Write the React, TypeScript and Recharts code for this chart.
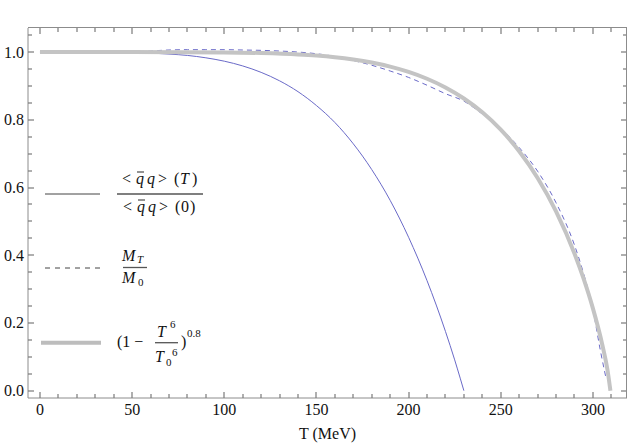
import { LineChart, Line, XAxis, YAxis } from 'recharts';

// <qq>(T)/<qq>(0), thin solid
const condT = [0, 10, 20, 30, 40, 50, 60, 70, 80, 90, 100, 110, 120, 130, 140, 150, 160, 170, 180, 190, 200, 210, 220, 225, 228, 230];
const condRatio = [1, 1, 1, 1, 0.9995, 0.9986, 0.997, 0.994, 0.99, 0.983, 0.973, 0.959, 0.94, 0.915, 0.883, 0.842, 0.792, 0.729, 0.653, 0.562, 0.453, 0.325, 0.175, 0.091, 0.037, 0];

// M_T/M_0, dashed
const massT = [0, 50, 55, 60, 70, 80, 90, 100, 110, 120, 130, 140, 150, 160, 170, 180, 190, 200, 210, 220, 230, 240, 250, 260, 270, 280, 290, 295, 300, 304, 307];
const massRatio = [1, 1, 1.001, 1.003, 1.006, 1.007, 1.007, 1.007, 1.006, 1.005, 1.003, 1.0, 0.995, 0.987, 0.975, 0.961, 0.944, 0.925, 0.902, 0.877, 0.855, 0.817, 0.774, 0.718, 0.648, 0.555, 0.43, 0.345, 0.24, 0.12, 0.04];

// (1 - T^6/T0^6)^0.8, thick grey
const fitT = [0, 50, 100, 120, 140, 150, 160, 170, 180, 190, 200, 210, 220, 230, 240, 250, 260, 270, 280, 290, 295, 300, 305, 308, 309.5];
const fitVals = [1, 1, 0.999, 0.997, 0.993, 0.9896, 0.9847, 0.9779, 0.9689, 0.9569, 0.9413, 0.9211, 0.8954, 0.8629, 0.822, 0.7708, 0.7072, 0.6282, 0.5295, 0.4051, 0.33, 0.243, 0.138, 0.058, 0];

// ticks: every 10 on x (labels every 50), every 0.05 on y (labels every 0.2)
const xTicks = [0, 10, 20, 30, 40, 50, 60, 70, 80, 90, 100, 110, 120, 130, 140, 150, 160, 170, 180, 190, 200, 210, 220, 230, 240, 250, 260, 270, 280, 290, 300, 310];
const yTicks = [0, 0.05, 0.1, 0.15, 0.2, 0.25, 0.3, 0.35, 0.4, 0.45, 0.5, 0.55, 0.6, 0.65, 0.7, 0.75, 0.8, 0.85, 0.9, 0.95, 1.0, 1.05];

const condData = condT.map((t, i) => ({ t, v: condRatio[i] }));
const massData = massT.map((t, i) => ({ t, v: massRatio[i] }));
const fitData = fitT.map((t, i) => ({ t, v: fitVals[i] }));

const xDomain: [number, number] = [-6.5, 318.5];
const yDomain: [number, number] = [-0.0216, 1.071];

const W = 634;
const H = 445;
const PLOT_LEFT = 28;
const PLOT_TOP = 28;
const PLOT_RIGHT = 627;
const PLOT_BOTTOM = 398;

const frame = '#8c8c8c';
const tickCol = '#7a7a7a';
const blue = '#6a6ac8';
const serif = "'Liberation Serif', 'Times New Roman', Times, 'DejaVu Serif', serif";

const isMult = (v: number, step: number) => Math.abs(v / step - Math.round(v / step)) < 1e-6;

// bottom tick + matching tick on top frame
function XTick(props: any) {
  const { x, payload } = props;
  const major = isMult(payload.value, 50);
  const len = major ? 6 : 4;
  const px = Math.round(x);
  return (
    <g>
      <line x1={px} x2={px} y1={PLOT_BOTTOM} y2={PLOT_BOTTOM - len} stroke={tickCol} strokeWidth={1.2} />
      <line x1={px} x2={px} y1={PLOT_TOP} y2={PLOT_TOP + len} stroke={tickCol} strokeWidth={1.2} />
      {major && (
        <text x={x} y={PLOT_BOTTOM + 17} textAnchor="middle" fontSize={16} fill="#111" style={{ fontFamily: serif }}>
          {payload.value}
        </text>
      )}
    </g>
  );
}

// left tick + matching tick on right frame
function YTick(props: any) {
  const { y, payload } = props;
  const major = isMult(payload.value, 0.2);
  const len = major ? 6 : 4;
  const py = Math.round(y);
  return (
    <g>
      <line x1={PLOT_LEFT} x2={PLOT_LEFT + len} y1={py} y2={py} stroke={tickCol} strokeWidth={1.2} />
      <line x1={PLOT_RIGHT} x2={PLOT_RIGHT - len} y1={py} y2={py} stroke={tickCol} strokeWidth={1.2} />
      {major && (
        <text x={PLOT_LEFT - 4} y={y + 5.5} textAnchor="end" fontSize={16} fill="#111" style={{ fontFamily: serif }}>
          {payload.value.toFixed(1)}
        </text>
      )}
    </g>
  );
}

function LegendOverlay() {
  const it = { fontStyle: 'italic' as const };
  return (
    <svg
      width={W}
      height={H}
      style={{ position: 'absolute', left: 0, top: 0, pointerEvents: 'none', fontFamily: serif }}
      fill="#111"
    >
      {/* condensate ratio */}
      <line x1={45} x2={100} y1={194} y2={194} stroke="#444" strokeWidth={1} />
      <g fontSize={16}>
        <text x={122} y={184}>&lt;</text>
        <text x={136} y={184} style={it}>q</text>
        <line x1={137} x2={144} y1={172} y2={172} stroke="#111" strokeWidth={0.9} />
        <text x={147} y={184} style={it}>q</text>
        <text x={158} y={184}>&gt;</text>
        <text x={174} y={184}>(</text>
        <text x={180} y={184} style={it}>T</text>
        <text x={192} y={184}>)</text>
        <line x1={117} x2={203} y1={194} y2={194} stroke="#555" strokeWidth={1.3} />
        <text x={123} y={212}>&lt;</text>
        <text x={137} y={212} style={it}>q</text>
        <line x1={138} x2={145} y1={200} y2={200} stroke="#111" strokeWidth={0.9} />
        <text x={148} y={212} style={it}>q</text>
        <text x={159} y={212}>&gt;</text>
        <text x={175} y={212}>(</text>
        <text x={181} y={212}>0</text>
        <text x={190} y={212}>)</text>
      </g>
      {/* mass ratio */}
      <line x1={45} x2={100} y1={268} y2={268} stroke="#444" strokeWidth={1} strokeDasharray="5 5" />
      <g fontSize={16}>
        <text x={122} y={261} style={it}>M</text>
        <text x={137} y={263} fontSize={11} style={it}>T</text>
        <line x1={123} x2={147} y1={267.5} y2={267.5} stroke="#555" strokeWidth={1.3} />
        <text x={122} y={283} style={it}>M</text>
        <text x={138} y={286} fontSize={11}>0</text>
      </g>
      {/* fit */}
      <line x1={41} x2={101} y1={342.7} y2={342.7} stroke="#bdbdbd" strokeWidth={4} />
      <g fontSize={16}>
        <text x={117} y={347}>(1 −</text>
        <text x={157} y={337} style={it}>T</text>
        <text x={170} y={328} fontSize={11}>6</text>
        <line x1={155} x2={178} y1={342.7} y2={342.7} stroke="#555" strokeWidth={1.3} />
        <text x={155} y={362} style={it}>T</text>
        <text x={166} y={366} fontSize={11}>0</text>
        <text x={172} y={356} fontSize={11}>6</text>
        <text x={181} y={347}>)</text>
        <text x={187} y={337} fontSize={11}>0.8</text>
      </g>
    </svg>
  );
}

export default function App() {
  return (
    <div style={{ position: 'absolute', left: 0, top: 0, width: W, height: H, background: '#fff' }}>
      <LineChart width={W} height={H} margin={{ top: PLOT_TOP, right: W - PLOT_RIGHT, left: 0, bottom: 0 }}>
        <XAxis
          type="number"
          dataKey="t"
          domain={xDomain}
          allowDataOverflow
          ticks={xTicks}
          interval={0}
          height={H - PLOT_BOTTOM}
          stroke={frame}
          tickLine={false}
          tickSize={0}
          tickMargin={0}
          tick={<XTick />}
          label={{ value: 'T (MeV)', position: 'insideBottom', offset: 6, fill: '#111', fontSize: 16, style: { fontFamily: serif } }}
        />
        <YAxis
          type="number"
          domain={yDomain}
          allowDataOverflow
          ticks={yTicks}
          interval={0}
          width={PLOT_LEFT}
          stroke={frame}
          tickLine={false}
          tickSize={0}
          tickMargin={0}
          tick={<YTick />}
        />

        <Line data={condData} dataKey="v" type="monotone" stroke={blue} strokeWidth={1} dot={false} isAnimationActive={false} />
        <Line data={massData} dataKey="v" type="monotone" stroke={blue} strokeWidth={1} strokeDasharray="5 4" dot={false} isAnimationActive={false} />
        <Line data={fitData} dataKey="v" type="monotone" stroke="#c4c4c4" strokeWidth={4} dot={false} isAnimationActive={false} />
      </LineChart>
      {/* top and right sides of the frame */}
      <div
        style={{
          position: 'absolute',
          left: PLOT_LEFT,
          top: PLOT_TOP - 1,
          width: PLOT_RIGHT - PLOT_LEFT,
          height: PLOT_BOTTOM - PLOT_TOP + 1,
          borderTop: `1px solid ${frame}`,
          borderRight: `1px solid ${frame}`,
          boxSizing: 'border-box',
          pointerEvents: 'none',
        }}
      />
      <LegendOverlay />
    </div>
  );
}
